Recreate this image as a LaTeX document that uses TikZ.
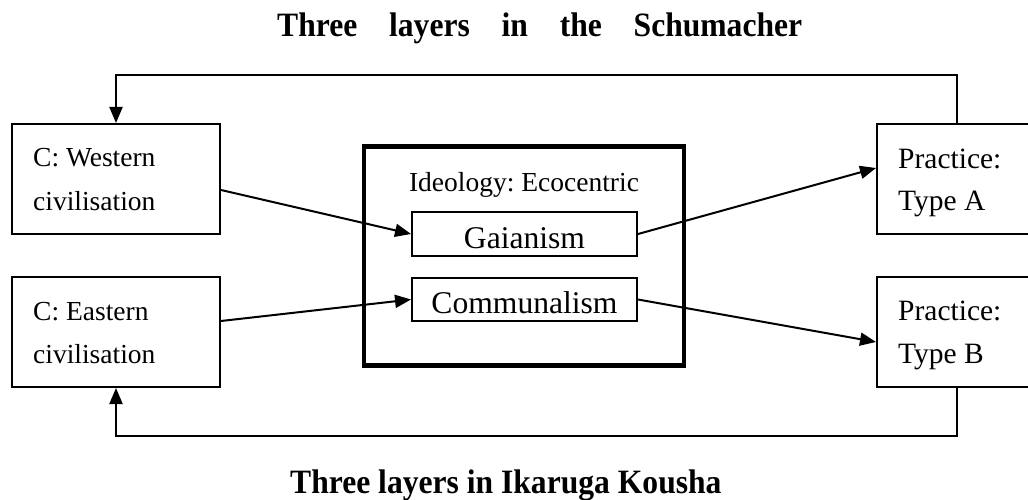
\documentclass[tikz,border=0pt]{standalone}
\usepackage{fontspec}
\setmainfont{Liberation Serif}
\usetikzlibrary{arrows.meta,calc}
\frenchspacing
\tikzset{
  box/.style={draw, line width=2pt, rectangle, inner sep=0pt},
  thickbox/.style={draw, line width=4.5pt, rectangle, inner sep=0pt},
  boxtxt/.style={inner sep=0pt, anchor=base west, font=\fontsize{27.5}{33}\selectfont},
  practxt/.style={inner sep=0pt, anchor=base west, font=\fontsize{29.5}{35}\selectfont},
  innertxt/.style={inner sep=0pt, anchor=base, font=\fontsize{31.6}{38}\selectfont},
  titletxt/.style={inner sep=0pt, anchor=base west, font=\fontsize{31.6}{38}\selectfont\bfseries},
  arr/.style={line width=2pt, -{Triangle[length=16pt,width=13pt]}},
  fb/.style={line width=2pt, -{Triangle[length=16pt,width=13pt]}}
}
\begin{document}
\begin{tikzpicture}[x=1pt,y=-1pt]
\useasboundingbox (0,0) rectangle (1028,500);
\clip (0,0) rectangle (1028,500);

% titles
\node[titletxt] (t1) at (277,37) {\scalebox{1}[1.08]{\makebox[525pt][s]{Three layers in the Schumacher}}};
\node[titletxt] (t2) at (290,493) {\scalebox{1}[1.08]{Three layers in Ikaruga Kousha}};

% left boxes
\node[box, minimum width=208pt, minimum height=110pt] (w) at (116,179) {};
\node[boxtxt] (w1) at (33,167) {C: Western};
\node[boxtxt] (w2) at (33,210) {civilisation};

\node[box, minimum width=208pt, minimum height=110pt] (e) at (116,332) {};
\node[boxtxt] (e1) at (33,320) {C: Eastern};
\node[boxtxt] (e2) at (33,363) {civilisation};

% ideology box
\node[thickbox, minimum width=320pt, minimum height=219pt] (ideo) at (524,256) {};
\node[boxtxt, anchor=base] (ideot) at (524,191) {Ideology: Ecocentric};

\node[box, minimum width=225pt, minimum height=44pt] (g) at (524.5,234) {};
\node[innertxt] (gt) at (524.5,248) {Gaianism};
\node[box, minimum width=225pt, minimum height=43pt] (c) at (524.5,299.5) {};
\node[innertxt] (ct) at (524.5,313) {Communalism};

% right boxes
\node[box, minimum width=160pt, minimum height=110pt] (pa) at (957,179) {};
\node[practxt] (pa1) at (898,168) {Practice:};
\node[practxt] (pa2) at (898,210) {Type A};

\node[box, minimum width=160pt, minimum height=110pt] (pb) at (957,332) {};
\node[practxt] (pb1) at (898,320) {Practice:};
\node[practxt] (pb2) at (898,363) {Type B};

% connectors
\draw[arr] ($(w.east)+(0,11)$) -- (g.west);
\draw[arr] ($(e.east)+(0,-11)$) -- (c.west);
\draw[arr] (g.east) -- ($(pa.west)+(0,-11)$);
\draw[arr] (c.east) -- ($(pb.west)+(0,10)$);

% feedback loops
\draw[fb] (pa.north) -- ++(0,-47.5) -| (w.north);
\draw[fb] (pb.south) -- ++(0,48) -| (e.south);
\end{tikzpicture}
\end{document}
